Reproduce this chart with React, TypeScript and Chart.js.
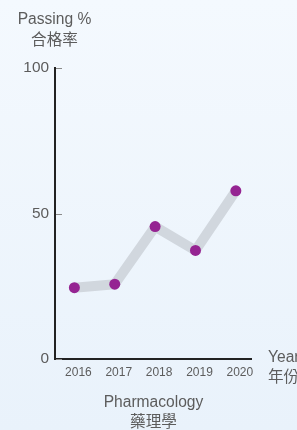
import React, { useEffect, useRef } from "react";
import { Chart, registerables } from "chart.js";

Chart.register(...registerables);

const years = [2016, 2017, 2018, 2019, 2020];
const passingRate = [24.5, 25.7, 45.5, 37.3, 57.8];
const yTicks = [0, 50, 100];
const yTitle = ["Passing %", "合格率"];
const xTitle = ["Year", "年份"];
const chartTitle = ["Pharmacology", "藥理學"];

const FONT = '"Liberation Sans", "Noto Sans CJK TC", sans-serif';
const TEXT = "#5c5c5c";

export default function App() {
  const ref = useRef<HTMLCanvasElement | null>(null);

  useEffect(() => {
    const canvas = ref.current;
    if (!canvas) return;

    const textPlugin = {
      id: "customText",
      afterDraw(chart: any) {
        const { ctx, chartArea, scales } = chart;
        ctx.save();
        // inner ticks on y axis
        const ys = scales.y;
        ctx.strokeStyle = "#8a8a8a";
        ctx.lineWidth = 1;
        yTicks.forEach((v) => {
          const py = Math.round(ys.getPixelForValue(v)) + 0.5;
          ctx.beginPath();
          ctx.moveTo(chartArea.left + 1, py);
          ctx.lineTo(chartArea.left + 7, py);
          ctx.stroke();
        });
        ctx.fillStyle = TEXT;
        ctx.font = `15.6px ${FONT}`;
        ctx.textBaseline = "alphabetic";
        ctx.textAlign = "center";
        ctx.fillText(yTitle[0], chartArea.left - 0.5, chartArea.top - 44);
        ctx.fillText(yTitle[1], chartArea.left - 0.5, chartArea.top - 23);
        ctx.textAlign = "left";
        ctx.fillText(xTitle[0], chartArea.right + 16, chartArea.bottom + 3);
        ctx.fillText(xTitle[1], chartArea.right + 16, chartArea.bottom + 23);
        ctx.textAlign = "center";
        const cx = (chartArea.left + chartArea.right) / 2;
        ctx.fillText(chartTitle[0], cx, chartArea.bottom + 47.5);
        ctx.fillText(chartTitle[1], cx, chartArea.bottom + 68);
        ctx.restore();
      },
    };

    const chart = new Chart(canvas, {
      type: "line",
      data: {
        datasets: [
          {
            data: years.map((yr, i) => ({ x: yr, y: passingRate[i] })),
            borderColor: "#d1d7de",
            borderWidth: 10,
            borderJoinStyle: "round",
            borderCapStyle: "round",
            pointRadius: 5.5,
            pointHoverRadius: 5.5,
            pointBackgroundColor: "#952492",
            pointBorderWidth: 0,
            tension: 0,
          },
        ],
      },
      options: {
        animation: false,
        responsive: false,
        events: [],
        layout: { padding: { left: 0, top: 68, right: 45, bottom: 0 } },
        plugins: {
          legend: { display: false },
          tooltip: { enabled: false },
          title: { display: false },
        },
        scales: {
          x: {
            type: "linear",
            min: 2015.52,
            max: 2020.4,
            afterBuildTicks: (scale: any) => {
              scale.ticks = years.map((v) => ({ value: v }));
            },
            afterFit: (scale: any) => {
              scale.height = 71;
            },
            grid: { display: true, drawOnChartArea: false, drawTicks: false, tickLength: 0, lineWidth: 0 },
            border: { display: true, color: "#222222", width: 2 },
            ticks: {
              callback: (v: any) => String(v),
              font: { family: FONT, size: 12 },
              color: TEXT,
              padding: 6,
              labelOffset: 4,
              maxRotation: 0,
              autoSkip: false,
            },
          },
          y: {
            type: "linear",
            min: 0,
            max: 100,
            afterBuildTicks: (scale: any) => {
              scale.ticks = yTicks.map((v) => ({ value: v }));
            },
            afterFit: (scale: any) => {
              scale.width = 55;
            },
            grid: { display: true, drawOnChartArea: false, drawTicks: false, tickLength: 0, lineWidth: 0 },
            border: { display: true, color: "#222222", width: 2 },
            ticks: {
              font: { family: FONT, size: 15.4 },
              color: TEXT,
              padding: 6,
            },
          },
        },
      },
      plugins: [textPlugin],
    } as any);

    return () => chart.destroy();
  }, []);

  return (
    <div
      style={{
        position: "fixed",
        left: 0,
        top: 0,
        width: 297,
        height: 430,
        background: "linear-gradient(to bottom, #f4f9fe, #e9f2fb)",
        overflow: "hidden",
      }}
    >
      <canvas ref={ref} width={297} height={430} style={{ display: "block", width: 297, height: 430 }} />
    </div>
  );
}
